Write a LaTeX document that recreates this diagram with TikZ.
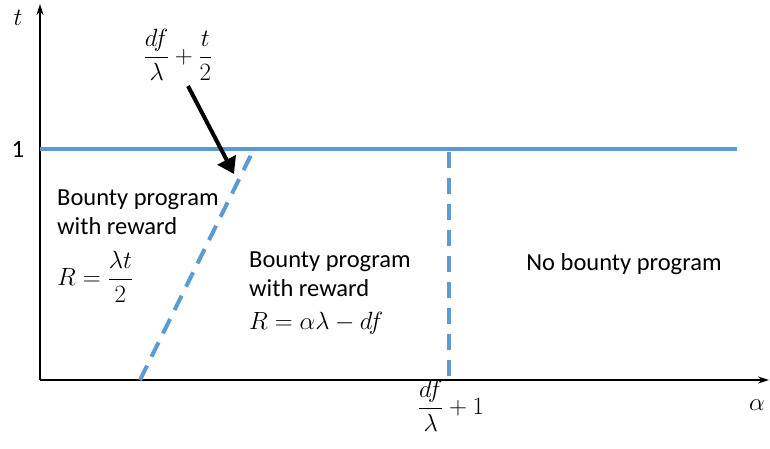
\documentclass[tikz,border=0pt]{standalone}
\usepackage{amsmath}
\usepackage[no-math]{fontspec}
\setmainfont{Carlito}
\usetikzlibrary{arrows.meta}
\definecolor{ofblue}{HTML}{5B9BD5}
\begin{document}
\begin{tikzpicture}[x=1pt,y=-1pt,
  axis/.style={line width=1.5pt, -{Stealth[length=11pt,width=7pt]}},
  bluesolid/.style={ofblue, line width=4pt},
  bluedash/.style={ofblue, line width=4pt, dash pattern=on 16pt off 10pt},
  pointer/.style={line width=4pt, -{Triangle[length=16pt,width=20pt]}},
  lbl/.style={font=\fontsize{24.5}{28.5}\selectfont, inner sep=0pt, align=left},
  mth/.style={font=\fontsize{25}{29}\selectfont, inner sep=0pt}]
\useasboundingbox (0,0) rectangle (770,448);
% axes
\coordinate (O) at (40,380);
\coordinate (ytop) at (40,4);
\coordinate (xend) at (769,380);
\draw[axis] (O) -- (ytop);
\draw[axis] (O) -- (xend);
% solid line t=1
\coordinate (h1) at (40,149);
\coordinate (h2) at (737,149);
\draw[bluesolid] (h1) -- (h2);
% dashed lines
\coordinate (d1) at (140,380);
\coordinate (d2) at (252,153);
\draw[bluedash] (d1) -- (d2);
\coordinate (v1) at (449,152);
\coordinate (v2) at (449,378);
\draw[bluedash] (v1) -- (v2);
% axis labels
\node[mth] (tlab) at (18,18) {$t$};
\node[mth] (onelab) at (18,149) {1};
\node[mth] (alab) at (757,405) {$\alpha$};
\node[mth] (xlab) at (451,406) {$\dfrac{df}{\lambda}+1$};
% pointer label
\node[mth] (toplab) at (178,55) {$\dfrac{df}{\lambda}+\dfrac{t}{2}$};
\coordinate (as) at (188,86);
\coordinate (ae) at (234,174);
\draw[pointer] (as) -- (ae);
% region labels
\node[lbl, anchor=north west] (reg1) at (57,190) {Bounty program\\ with reward\\[16pt] $R=\dfrac{\lambda t}{2}$};
\node[lbl, anchor=north west] (reg2) at (249,252) {Bounty program\\ with reward\\[5pt] $R=\alpha\lambda-df$};
\node[lbl] (reg3) at (624,264) {No bounty program};
\end{tikzpicture}
\end{document}
